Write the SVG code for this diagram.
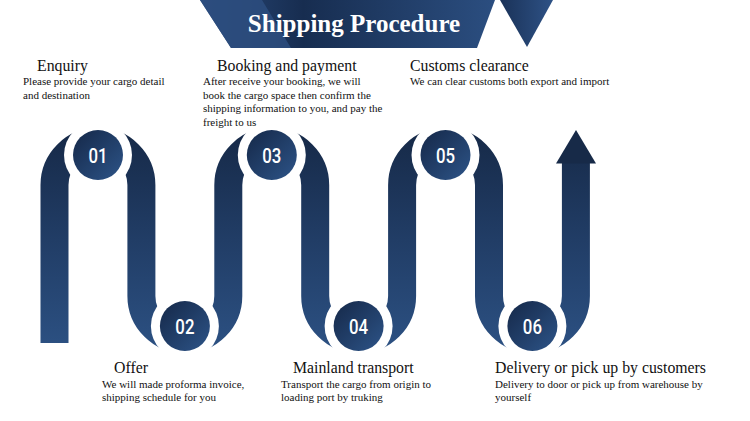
<svg xmlns="http://www.w3.org/2000/svg" width="750" height="421" viewBox="0 0 750 421">
<defs>
<linearGradient id="rib" gradientUnits="userSpaceOnUse" x1="0" y1="128" x2="0" y2="352">
<stop offset="0" stop-color="#162947"/>
<stop offset="0.5" stop-color="#213d66"/>
<stop offset="1" stop-color="#2c5183"/>
</linearGradient>
<linearGradient id="cir" x1="0" y1="0" x2="1" y2="1">
<stop offset="0" stop-color="#152848"/>
<stop offset="1" stop-color="#2d5488"/>
</linearGradient>
<linearGradient id="ban" gradientUnits="userSpaceOnUse" x1="200" y1="0" x2="495" y2="0">
<stop offset="0" stop-color="#2a4a7b"/>
<stop offset="0.35" stop-color="#172d50"/>
<stop offset="1" stop-color="#2b4e80"/>
</linearGradient>
<linearGradient id="tri" x1="0" y1="0" x2="1" y2="0">
<stop offset="0" stop-color="#1a3258"/>
<stop offset="1" stop-color="#2e5286"/>
</linearGradient>
<style>
.ring{fill:#ffffff}
.disc{fill:url(#cir)}
.num{font-family:Roboto,"Liberation Sans",sans-serif;font-size:21px;font-weight:500;fill:#ffffff;text-anchor:middle}
.ttl{font-family:"Liberation Serif","Times New Roman",serif;font-size:15.8px;fill:#111111}
.body{font-family:"Liberation Serif","Times New Roman",serif;font-size:11px;fill:#111111}
</style>
</defs>
<rect width="750" height="421" fill="#ffffff"/>

<g id="banner">
<polygon points="200,0 495,0 477,48 231,48" fill="url(#ban)"/>
<polygon points="200,0 262,0 291,48 231,48" fill="#2d4e7f" opacity="0.85"/>
<polygon points="500,0 553,0 527,47" fill="url(#tri)"/>
<text x="354" y="32" font-family="'Liberation Serif','Times New Roman',serif" font-size="25" font-weight="bold" fill="#ffffff" text-anchor="middle">Shipping Procedure</text>
</g>

<g id="connectors">
<path d="M54.5 343 V185 A43.45 43.45 0 0 1 141.4 185 V296 A43.45 43.45 0 0 0 228.3 296 V185 A43.45 43.45 0 0 1 315.2 185 V296 A43.45 43.45 0 0 0 402.1 296 V185 A43.45 43.45 0 0 1 489 185 V296 A43.45 43.45 0 0 0 575.9 296 V162" fill="none" stroke="url(#rib)" stroke-width="28"/>
<polygon points="556,163.5 596,163.5 576,130" fill="#172a48"/>
</g>

<g id="step1">
<circle class="ring" cx="98" cy="155" r="34"/>
<circle class="disc" cx="98" cy="155" r="25"/>
<text class="num" transform="translate(98,162.5) scale(0.8,1)">01</text>
<text class="ttl" x="37" y="71">Enquiry</text>
<text class="body" x="23" y="85">Please provide your cargo detail</text>
<text class="body" x="23" y="99">and destination</text>
</g>

<g id="step2">
<circle class="ring" cx="184.9" cy="326" r="34"/>
<circle class="disc" cx="184.9" cy="326" r="25"/>
<text class="num" transform="translate(184.9,333.5) scale(0.8,1)">02</text>
<text class="ttl" x="114" y="372.5">Offer</text>
<text class="body" x="102" y="387.5">We will made proforma invoice,</text>
<text class="body" x="102" y="401">shipping schedule for you</text>
</g>

<g id="step3">
<circle class="ring" cx="271.8" cy="155" r="34"/>
<circle class="disc" cx="271.8" cy="155" r="25"/>
<text class="num" transform="translate(271.8,162.5) scale(0.8,1)">03</text>
<text class="ttl" x="217" y="71">Booking and payment</text>
<text class="body" x="203" y="85">After receive your booking, we will</text>
<text class="body" x="203" y="98.5">book the cargo space then confirm the</text>
<text class="body" x="203" y="112">shipping information to you, and pay the</text>
<text class="body" x="203" y="125.5">freight to us</text>
</g>

<g id="step4">
<circle class="ring" cx="358.6" cy="326" r="34"/>
<circle class="disc" cx="358.6" cy="326" r="25"/>
<text class="num" transform="translate(358.6,333.5) scale(0.8,1)">04</text>
<text class="ttl" x="293" y="372.5">Mainland transport</text>
<text class="body" x="281" y="387.5">Transport the cargo from origin to</text>
<text class="body" x="281" y="401">loading port by truking</text>
</g>

<g id="step5">
<circle class="ring" cx="445.5" cy="155" r="34"/>
<circle class="disc" cx="445.5" cy="155" r="25"/>
<text class="num" transform="translate(445.5,162.5) scale(0.8,1)">05</text>
<text class="ttl" x="410" y="71">Customs clearance</text>
<text class="body" x="410" y="85">We can clear customs both export and import</text>
</g>

<g id="step6">
<circle class="ring" cx="532.4" cy="326" r="34"/>
<circle class="disc" cx="532.4" cy="326" r="25"/>
<text class="num" transform="translate(532.4,333.5) scale(0.8,1)">06</text>
<text class="ttl" x="495" y="372.5">Delivery or pick up by customers</text>
<text class="body" x="495" y="387.5">Delivery to door or pick up from warehouse by</text>
<text class="body" x="495" y="401">yourself</text>
</g>
</svg>
